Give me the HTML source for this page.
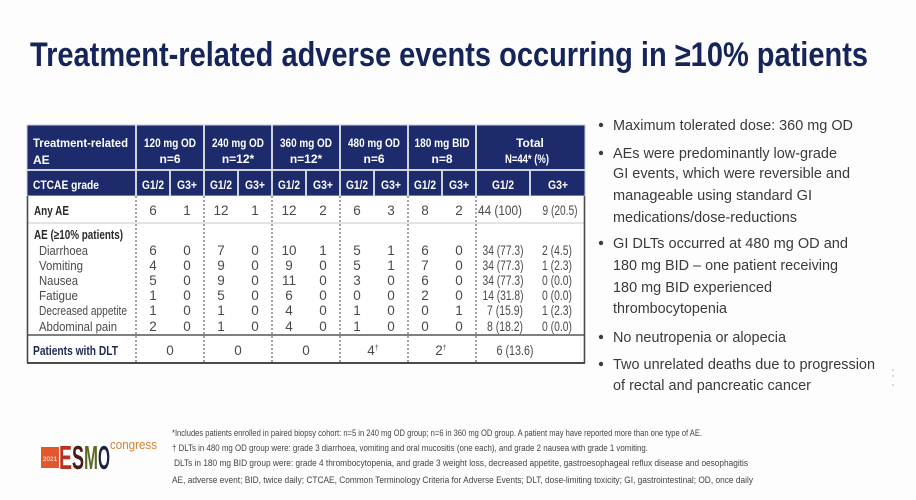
<!DOCTYPE html>
<html>
<head>
<meta charset="utf-8">
<style>
html,body{margin:0;padding:0;background:#fdfdfd;}
svg{display:block;}
text{font-family:"Liberation Sans",Arial,sans-serif;}
</style>
</head>
<body>
<svg width="916" height="500" viewBox="0 0 916 500" xmlns="http://www.w3.org/2000/svg">
<rect x="0" y="0" width="916" height="500" fill="#fdfdfd"/>

<!-- Title -->
<text x="30" y="66" font-size="34" font-weight="bold" fill="#15255a" textLength="838" lengthAdjust="spacingAndGlyphs">Treatment-related adverse events occurring in ≥10% patients</text>

<!-- Table header -->
<rect x="27" y="125" width="558" height="71" fill="#1d2b6c" stroke="#c9cdd6" stroke-width="1"/>
<g stroke="#cfd3dc" stroke-width="2">
  <line x1="27" y1="170" x2="585" y2="170"/>
  <line x1="136" y1="125" x2="136" y2="196"/>
  <line x1="204" y1="125" x2="204" y2="196"/>
  <line x1="272" y1="125" x2="272" y2="196"/>
  <line x1="340" y1="125" x2="340" y2="196"/>
  <line x1="408" y1="125" x2="408" y2="196"/>
  <line x1="476" y1="125" x2="476" y2="196"/>
  <line x1="170" y1="170" x2="170" y2="196"/>
  <line x1="238" y1="170" x2="238" y2="196"/>
  <line x1="306" y1="170" x2="306" y2="196"/>
  <line x1="374" y1="170" x2="374" y2="196"/>
  <line x1="442" y1="170" x2="442" y2="196"/>
  <line x1="530" y1="170" x2="530" y2="196"/>
</g>
<g fill="#ffffff" font-size="12" font-weight="bold">
  <text x="33" y="147" textLength="95" lengthAdjust="spacingAndGlyphs">Treatment-related</text>
  <text x="33" y="164">AE</text>
  <text x="170" y="147" text-anchor="middle" textLength="52" lengthAdjust="spacingAndGlyphs">120 mg OD</text>
  <text x="170" y="163" text-anchor="middle">n=6</text>
  <text x="238" y="147" text-anchor="middle" textLength="52" lengthAdjust="spacingAndGlyphs">240 mg OD</text>
  <text x="238" y="163" text-anchor="middle">n=12*</text>
  <text x="306" y="147" text-anchor="middle" textLength="52" lengthAdjust="spacingAndGlyphs">360 mg OD</text>
  <text x="306" y="163" text-anchor="middle">n=12*</text>
  <text x="374" y="147" text-anchor="middle" textLength="52" lengthAdjust="spacingAndGlyphs">480 mg OD</text>
  <text x="374" y="163" text-anchor="middle">n=6</text>
  <text x="442" y="147" text-anchor="middle" textLength="55" lengthAdjust="spacingAndGlyphs">180 mg BID</text>
  <text x="442" y="163" text-anchor="middle">n=8</text>
  <text x="530" y="147" text-anchor="middle">Total</text>
  <text x="527" y="163" text-anchor="middle" textLength="44" lengthAdjust="spacingAndGlyphs">N=44* (%)</text>
  <text x="33" y="189" textLength="66" lengthAdjust="spacingAndGlyphs">CTCAE grade</text>
  <text x="153" y="189" text-anchor="middle" textLength="22" lengthAdjust="spacingAndGlyphs">G1/2</text>
  <text x="187" y="189" text-anchor="middle" textLength="20" lengthAdjust="spacingAndGlyphs">G3+</text>
  <text x="221" y="189" text-anchor="middle" textLength="22" lengthAdjust="spacingAndGlyphs">G1/2</text>
  <text x="255" y="189" text-anchor="middle" textLength="20" lengthAdjust="spacingAndGlyphs">G3+</text>
  <text x="289" y="189" text-anchor="middle" textLength="22" lengthAdjust="spacingAndGlyphs">G1/2</text>
  <text x="323" y="189" text-anchor="middle" textLength="20" lengthAdjust="spacingAndGlyphs">G3+</text>
  <text x="357" y="189" text-anchor="middle" textLength="22" lengthAdjust="spacingAndGlyphs">G1/2</text>
  <text x="391" y="189" text-anchor="middle" textLength="20" lengthAdjust="spacingAndGlyphs">G3+</text>
  <text x="425" y="189" text-anchor="middle" textLength="22" lengthAdjust="spacingAndGlyphs">G1/2</text>
  <text x="459" y="189" text-anchor="middle" textLength="20" lengthAdjust="spacingAndGlyphs">G3+</text>
  <text x="503" y="189" text-anchor="middle" textLength="22" lengthAdjust="spacingAndGlyphs">G1/2</text>
  <text x="558" y="189" text-anchor="middle" textLength="20" lengthAdjust="spacingAndGlyphs">G3+</text>
</g>

<!-- Table body -->
<rect x="27" y="196" width="558" height="167" fill="#ffffff"/>
<line x1="27" y1="223" x2="585" y2="223" stroke="#c8c8c8" stroke-width="1"/>
<line x1="27" y1="335" x2="585" y2="335" stroke="#555" stroke-width="1.5"/>
<g stroke="#444" stroke-width="1" stroke-dasharray="2,2">
  <line x1="136" y1="196" x2="136" y2="363"/>
  <line x1="204" y1="196" x2="204" y2="363"/>
  <line x1="272" y1="196" x2="272" y2="363"/>
  <line x1="340" y1="196" x2="340" y2="363"/>
  <line x1="408" y1="196" x2="408" y2="363"/>
  <line x1="476" y1="196" x2="476" y2="363"/>
</g>
<g stroke="#4a4a4a" stroke-width="1.6" fill="none">
  <line x1="27.5" y1="196" x2="27.5" y2="363"/>
  <line x1="584.5" y1="196" x2="584.5" y2="363"/>
  <line x1="27" y1="363" x2="585" y2="363" stroke-width="2"/>
</g>

<g font-size="12.5" fill="#2a2a2a" font-weight="bold">
  <text x="34" y="215" textLength="35" lengthAdjust="spacingAndGlyphs">Any AE</text>
  <text x="34" y="239" textLength="89" lengthAdjust="spacingAndGlyphs">AE (≥10% patients)</text>
  <text x="33" y="355" fill="#1f2a55" textLength="85" lengthAdjust="spacingAndGlyphs">Patients with DLT</text>
</g>
<g font-size="13" fill="#4a4a4a">
  <text x="39" y="255" textLength="49" lengthAdjust="spacingAndGlyphs">Diarrhoea</text>
  <text x="39" y="270" textLength="44" lengthAdjust="spacingAndGlyphs">Vomiting</text>
  <text x="39" y="285" textLength="39" lengthAdjust="spacingAndGlyphs">Nausea</text>
  <text x="39" y="300" textLength="39" lengthAdjust="spacingAndGlyphs">Fatigue</text>
  <text x="39" y="315" textLength="88" lengthAdjust="spacingAndGlyphs">Decreased appetite</text>
  <text x="39" y="331" textLength="78" lengthAdjust="spacingAndGlyphs">Abdominal pain</text>
</g>

<g font-size="13.5" fill="#4a4a4a" text-anchor="middle">
  <!-- Any AE -->
  <text x="153" y="215">6</text><text x="187" y="215">1</text>
  <text x="221" y="215">12</text><text x="255" y="215">1</text>
  <text x="289" y="215">12</text><text x="323" y="215">2</text>
  <text x="357" y="215">6</text><text x="391" y="215">3</text>
  <text x="425" y="215">8</text><text x="459" y="215">2</text>
  <text x="500" y="215" textLength="44" lengthAdjust="spacingAndGlyphs">44 (100)</text>
  <text x="560" y="215" textLength="35" lengthAdjust="spacingAndGlyphs">9 (20.5)</text>
  <!-- Diarrhoea -->
  <text x="153" y="255">6</text><text x="187" y="255">0</text>
  <text x="221" y="255">7</text><text x="255" y="255">0</text>
  <text x="289" y="255">10</text><text x="323" y="255">1</text>
  <text x="357" y="255">5</text><text x="391" y="255">1</text>
  <text x="425" y="255">6</text><text x="459" y="255">0</text>
  <text x="503" y="255" textLength="41" lengthAdjust="spacingAndGlyphs">34 (77.3)</text>
  <text x="557" y="255" textLength="30" lengthAdjust="spacingAndGlyphs">2 (4.5)</text>
  <!-- Vomiting -->
  <text x="153" y="270">4</text><text x="187" y="270">0</text>
  <text x="221" y="270">9</text><text x="255" y="270">0</text>
  <text x="289" y="270">9</text><text x="323" y="270">0</text>
  <text x="357" y="270">5</text><text x="391" y="270">1</text>
  <text x="425" y="270">7</text><text x="459" y="270">0</text>
  <text x="503" y="270" textLength="41" lengthAdjust="spacingAndGlyphs">34 (77.3)</text>
  <text x="557" y="270" textLength="30" lengthAdjust="spacingAndGlyphs">1 (2.3)</text>
  <!-- Nausea -->
  <text x="153" y="285">5</text><text x="187" y="285">0</text>
  <text x="221" y="285">9</text><text x="255" y="285">0</text>
  <text x="289" y="285">11</text><text x="323" y="285">0</text>
  <text x="357" y="285">3</text><text x="391" y="285">0</text>
  <text x="425" y="285">6</text><text x="459" y="285">0</text>
  <text x="503" y="285" textLength="41" lengthAdjust="spacingAndGlyphs">34 (77.3)</text>
  <text x="557" y="285" textLength="30" lengthAdjust="spacingAndGlyphs">0 (0.0)</text>
  <!-- Fatigue -->
  <text x="153" y="300">1</text><text x="187" y="300">0</text>
  <text x="221" y="300">5</text><text x="255" y="300">0</text>
  <text x="289" y="300">6</text><text x="323" y="300">0</text>
  <text x="357" y="300">0</text><text x="391" y="300">0</text>
  <text x="425" y="300">2</text><text x="459" y="300">0</text>
  <text x="503" y="300" textLength="41" lengthAdjust="spacingAndGlyphs">14 (31.8)</text>
  <text x="557" y="300" textLength="30" lengthAdjust="spacingAndGlyphs">0 (0.0)</text>
  <!-- Decreased appetite -->
  <text x="153" y="315">1</text><text x="187" y="315">0</text>
  <text x="221" y="315">1</text><text x="255" y="315">0</text>
  <text x="289" y="315">4</text><text x="323" y="315">0</text>
  <text x="357" y="315">1</text><text x="391" y="315">0</text>
  <text x="425" y="315">0</text><text x="459" y="315">1</text>
  <text x="505" y="315" textLength="36" lengthAdjust="spacingAndGlyphs">7 (15.9)</text>
  <text x="557" y="315" textLength="30" lengthAdjust="spacingAndGlyphs">1 (2.3)</text>
  <!-- Abdominal pain -->
  <text x="153" y="331">2</text><text x="187" y="331">0</text>
  <text x="221" y="331">1</text><text x="255" y="331">0</text>
  <text x="289" y="331">4</text><text x="323" y="331">0</text>
  <text x="357" y="331">1</text><text x="391" y="331">0</text>
  <text x="425" y="331">0</text><text x="459" y="331">0</text>
  <text x="505" y="331" textLength="36" lengthAdjust="spacingAndGlyphs">8 (18.2)</text>
  <text x="557" y="331" textLength="30" lengthAdjust="spacingAndGlyphs">0 (0.0)</text>
  <!-- DLT -->
  <text x="170" y="355">0</text>
  <text x="238" y="355">0</text>
  <text x="306" y="355">0</text>
  <text x="373" y="355">4<tspan font-size="7" dy="-5">†</tspan></text>
  <text x="441" y="355">2<tspan font-size="7" dy="-5">†</tspan></text>
  <text x="515" y="355" textLength="37" lengthAdjust="spacingAndGlyphs">6 (13.6)</text>
</g>

<!-- Right bullets -->
<g fill="#3c3c3c">
  <circle cx="601" cy="125" r="2.2"/>
  <circle cx="601" cy="153" r="2.2"/>
  <circle cx="601" cy="243" r="2.2"/>
  <circle cx="601" cy="337" r="2.2"/>
  <circle cx="601" cy="364" r="2.2"/>
</g>
<g font-size="15" fill="#3a3a3a">
  <text x="613" y="130" textLength="240" lengthAdjust="spacingAndGlyphs">Maximum tolerated dose: 360 mg OD</text>
  <text x="613" y="158" textLength="224" lengthAdjust="spacingAndGlyphs">AEs were predominantly low-grade</text>
  <text x="613" y="178" textLength="237" lengthAdjust="spacingAndGlyphs">GI events, which were reversible and</text>
  <text x="613" y="200" textLength="199" lengthAdjust="spacingAndGlyphs">manageable using standard GI</text>
  <text x="613" y="222" textLength="184" lengthAdjust="spacingAndGlyphs">medications/dose-reductions</text>
  <text x="613" y="248" textLength="235" lengthAdjust="spacingAndGlyphs">GI DLTs occurred at 480 mg OD and</text>
  <text x="613" y="270" textLength="225" lengthAdjust="spacingAndGlyphs">180 mg BID – one patient receiving</text>
  <text x="613" y="292" textLength="159" lengthAdjust="spacingAndGlyphs">180 mg BID experienced</text>
  <text x="613" y="313" textLength="114" lengthAdjust="spacingAndGlyphs">thrombocytopenia</text>
  <text x="613" y="342" textLength="173" lengthAdjust="spacingAndGlyphs">No neutropenia or alopecia</text>
  <text x="613" y="369" textLength="262" lengthAdjust="spacingAndGlyphs">Two unrelated deaths due to progression</text>
  <text x="613" y="390" textLength="198" lengthAdjust="spacingAndGlyphs">of rectal and pancreatic cancer</text>
</g>
<g fill="#cfcfcf">
  <circle cx="893" cy="370" r="1"/>
  <circle cx="893" cy="376" r="1"/>
  <circle cx="893" cy="385" r="1"/>
</g>

<!-- Logo -->
<rect x="41" y="447" width="18" height="21" fill="#e2572b"/>
<text x="50" y="461" font-size="6.5" fill="#ffffff" text-anchor="middle">2021</text>
<g font-size="33" font-weight="bold">
  <text x="59" y="469" fill="#b8321f" textLength="13" lengthAdjust="spacingAndGlyphs">E</text>
  <text x="72" y="469" fill="#4a1c1a" textLength="12" lengthAdjust="spacingAndGlyphs">S</text>
  <text x="84" y="469" fill="#5d6a26" textLength="14" lengthAdjust="spacingAndGlyphs">M</text>
  <text x="98" y="469" fill="#1d2140" textLength="12" lengthAdjust="spacingAndGlyphs">O</text>
</g>
<text x="110" y="449" font-size="13" fill="#d8802e" textLength="47" lengthAdjust="spacingAndGlyphs">congress</text>

<!-- Footnotes -->
<g font-size="9" fill="#444">
  <text x="172" y="436" textLength="530" lengthAdjust="spacingAndGlyphs">*Includes patients enrolled in paired biopsy cohort: n=5 in 240 mg OD group; n=6 in 360 mg OD group. A patient may have reported more than one type of AE.</text>
  <text x="172" y="451" textLength="476" lengthAdjust="spacingAndGlyphs">† DLTs in 480 mg OD group were: grade 3 diarrhoea, vomiting and oral mucositis (one each), and grade 2 nausea with grade 1 vomiting.</text>
  <text x="174" y="466" textLength="574" lengthAdjust="spacingAndGlyphs">DLTs in 180 mg BID group were: grade 4 thrombocytopenia, and grade 3 weight loss, decreased appetite, gastroesophageal reflux disease and oesophagitis</text>
  <text x="172" y="483" textLength="581" lengthAdjust="spacingAndGlyphs">AE, adverse event; BID, twice daily; CTCAE, Common Terminology Criteria for Adverse Events; DLT, dose-limiting toxicity; GI, gastrointestinal; OD, once daily</text>
</g>
</svg>
</body>
</html>
